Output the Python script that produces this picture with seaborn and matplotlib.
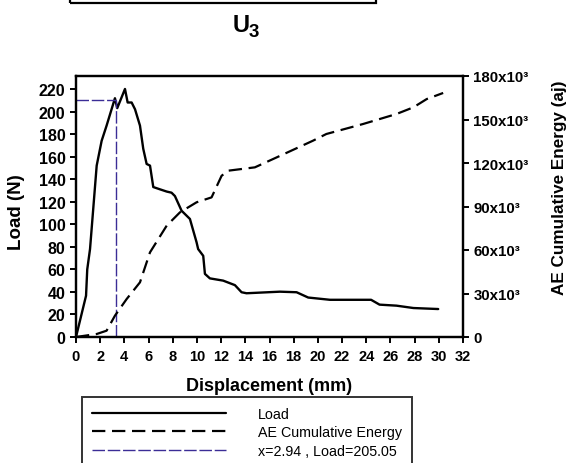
# Load and AE cumulative energy vs displacement (specimen U3)

import numpy as np
import pandas as pd
import matplotlib
matplotlib.use('Agg')
import matplotlib.pyplot as plt
from matplotlib.lines import Line2D
from matplotlib.patches import Rectangle
import seaborn as sb

# Load curve (mm, N)
load_x = [0, 0.83, 0.93, 1.16, 1.71, 2.12, 2.53, 3.22, 3.41, 4.05, 4.27, 4.6, 4.88, 5.29,
          5.56, 5.84, 6.12, 6.39, 6.94, 7.5, 7.9, 8.18, 8.73, 9.42, 9.97, 10.1, 10.52,
          10.66, 11.07, 12.17, 13.14, 13.69, 14.1, 16.86, 18.24, 19.2, 21.0, 24.4, 25.1,
          26.5, 27.9, 29.95]
load_y = [0, 36.6, 60, 78, 152, 174, 187.5, 211.8, 203, 220, 208, 208, 202, 187.5,
          167, 153.5, 152, 133, 131, 129, 128, 125, 112, 104.7, 84, 78, 72,
          56, 52, 50, 46, 39.7, 38.8, 40.2, 39.7, 35, 33, 33, 28.7,
          27.8, 25.7, 24.8]

# AE cumulative energy (mm, aJ)
ae_x = [0, 1.71, 2.53, 3.22, 4.19, 5.29, 6.12, 7.5, 8.6, 9.97, 11.21, 12.04, 12.59,
        14.79, 16.6, 19.6, 20.7, 23.74, 26.5, 27.9, 29.0, 30.36]
ae_y = [0, 2070, 4350, 14700, 26200, 37700, 58400, 76800, 86000, 92900, 96300, 111200,
        114700, 117000, 123900, 135400, 140000, 146900, 153800, 158400, 164100, 168300]

# marker drawn on the chart and its legend text
mark_x = 3.3
mark_load = 210
mark_label = 'x=2.94 , Load=205.05'

x_ticks = list(range(0, 33, 2))
load_ticks = list(range(0, 221, 20))
ae_ticks = [0, 30000, 60000, 90000, 120000, 150000, 180000]
ae_tick_labels = ['0', '30x10³', '60x10³', '90x10³', '120x10³', '150x10³', '180x10³']

load_df = pd.DataFrame({'x': load_x, 'y': load_y})
ae_df = pd.DataFrame({'x': ae_x, 'y': ae_y})

sb.set_style('ticks')
plt.rcParams['font.family'] = ['Liberation Sans', 'DejaVu Sans']
plt.rcParams['text.color'] = 'black'
plt.rcParams['axes.labelcolor'] = 'black'
plt.rcParams['xtick.color'] = 'black'
plt.rcParams['ytick.color'] = 'black'

W, H = 571, 464
fig = plt.figure(figsize=(W / 100, H / 100), dpi=100)
ax = fig.add_axes([76 / W, 1 - 338 / H, (463 - 76) / W, (338 - 77) / H])
ax2 = ax.twinx()

blue = '#3b2d96'
sb.lineplot(data=load_df, x='x', y='y', ax=ax, color='black', linewidth=1.7, sort=False)
sb.lineplot(data=ae_df, x='x', y='y', ax=ax2, color='black', linewidth=1.6,
            linestyle=(0, (6, 3)), sort=False)
ax.plot([mark_x, mark_x], [0, mark_load], color=blue, linewidth=1.0, linestyle=(0, (9, 2)))
ax.plot([0, mark_x], [mark_load, mark_load], color=blue, linewidth=1.0, linestyle=(0, (9, 2)))

ax.set_xlim(0, 32)
ax.set_ylim(0, 231.5)
ax2.set_ylim(0, 180000)
ax.set_xticks(x_ticks)
ax.set_yticks(load_ticks)
ax2.set_yticks(ae_ticks)
ax2.set_yticklabels(ae_tick_labels)

for a in (ax, ax2):
    for s in a.spines.values():
        s.set_linewidth(1.6)
        s.set_color('black')
    a.tick_params(direction='out', length=4, width=1.4, colors='black')
    for lab in a.get_xticklabels() + a.get_yticklabels():
        lab.set_fontweight('bold')
ax.tick_params(axis='x', labelsize=10.5, pad=5)
ax.tick_params(axis='y', labelsize=11.5)
ax2.tick_params(axis='y', labelsize=10.8)

ax.set_xlabel('Displacement (mm)', fontsize=13, fontweight='bold')
ax.set_ylabel('Load (N)', fontsize=13.5, fontweight='bold')
ax2.set_ylabel('AE Cumulative Energy (aj)', fontsize=12.3, fontweight='bold')
ax.xaxis.set_label_coords(0.5, -(378 - 338) / (338 - 77))
ax.yaxis.set_label_coords(-(76 - 25) / (463 - 76), (338 - 212) / (338 - 77))
ax2.yaxis.set_label_coords(1 + (552 - 463) / (463 - 76), (338 - 188) / (338 - 77))

# title and fragment of the box above
fig.text(233 / W, 1 - 32 / H, 'U', fontsize=17, fontweight='bold', ha='left', va='baseline')
fig.text(249 / W, 1 - 37 / H, '3', fontsize=13.5, fontweight='bold', ha='left', va='baseline')
fig.add_artist(Rectangle((70 / W, 1 - 4 / H), (376 - 70) / W, 0.1, transform=fig.transFigure,
                         fill=False, edgecolor='black', linewidth=1.6, clip_on=False))

handles = [Line2D([], [], color='black', linewidth=1.6),
           Line2D([], [], color='black', linewidth=1.6, linestyle=(0, (6, 3))),
           Line2D([], [], color=blue, linewidth=1.0, linestyle=(0, (9, 2)))]
leg = fig.legend(handles, ['Load', 'AE Cumulative Energy', mark_label], loc='upper left',
                 bbox_to_anchor=(82 / W, 1 - 398 / H), fontsize=10.3, frameon=True,
                 fancybox=False, edgecolor='black', handlelength=9.4, handletextpad=2.2,
                 borderpad=0.7, labelspacing=0.3, borderaxespad=0)
leg.get_frame().set_linewidth(1.4)

fig.savefig('out.png', dpi=100)
